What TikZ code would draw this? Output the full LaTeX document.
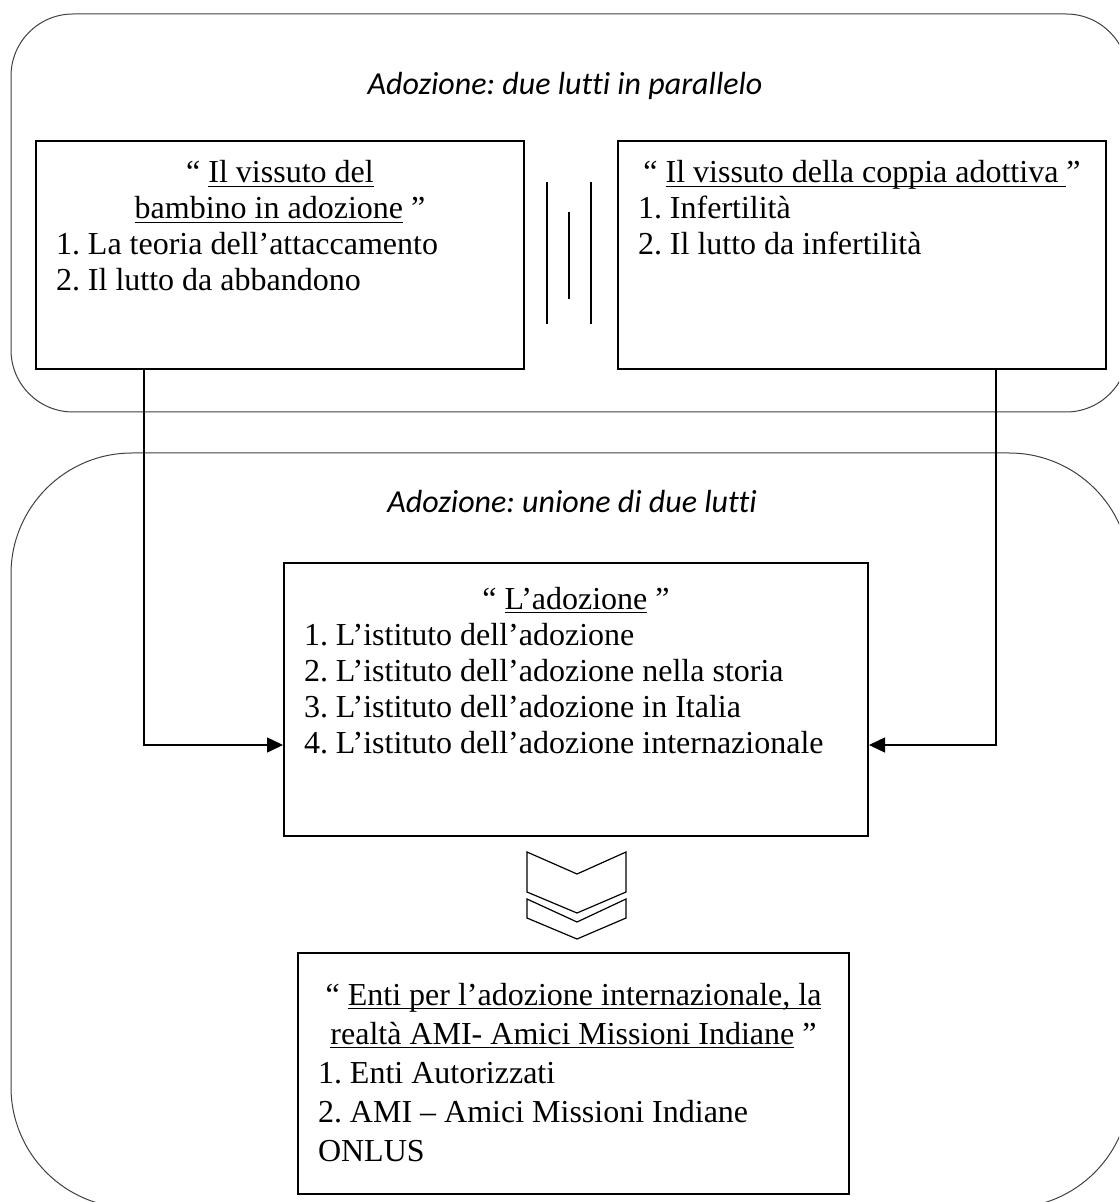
\documentclass[tikz,border=0pt]{standalone}
\usepackage{fontspec}
\setmainfont{Liberation Serif}
\newfontfamily\headfont[Ligatures=NoCommon]{Carlito}
\usetikzlibrary{arrows.meta}
\frenchspacing
\newcommand{\boxfont}{\fontsize{16pt}{18pt}\selectfont}
\newcommand{\undr}[1]{\leavevmode\setbox0\hbox{#1}\rlap{\rule[-2.2pt]{\wd0}{0.6pt}}\box0}

\begin{document}
\begin{tikzpicture}[x=0.5pt, y=-0.5pt,
    frame/.style={draw=black!75, line width=0.5pt},
    textbox/.style={draw, line width=1pt, inner xsep=10pt, inner ysep=0pt, anchor=north west, font=\boxfont},
    title/.style={anchor=base, font=\headfont\itshape\fontsize{16pt}{19pt}\selectfont},
    link/.style={line width=0.75pt, -{Triangle[length=8pt, width=7.5pt]}},
    chevron/.style={draw, line width=0.6pt, line join=miter}]
  \useasboundingbox (0,0) rectangle (1119,1202);
  \clip (0,0) rectangle (1119,1202);

  \draw[frame, rounded corners=31pt] (11,14) rectangle (1128,412);
  \draw[frame, rounded corners=60.5pt] (11,453) rectangle (1130,1208);

  \node[title] (parallelo) at (565,95) {Adozione: due lutti in parallelo};
  \node[title] (unione) at (572,512) {Adozione: unione di due lutti};

  \node[textbox] (bambino) at (35,140) {\parbox[t][114pt][t]{224pt}{\centering\rule{0pt}{21pt}“ \undr{Il vissuto del}\\
    \undr{bambino in adozione}\ ”\par
    \raggedright 1. La teoria dell’attaccamento\\
    2. Il lutto da abbandono}};
  \node[textbox] (coppia) at (617,140) {\parbox[t][114pt][t]{224pt}{\centering\rule{0pt}{21pt}“ \undr{Il vissuto della coppia adottiva\ }”\par
    \raggedright 1. Infertilità\\
    2. Il lutto da infertilità}};
  \node[textbox] (adozione) at (283,562) {\parbox[t][136.5pt][t]{272pt}{\centering\rule{0pt}{23pt}“ \undr{L’adozione}\ ”\par
    \raggedright 1. L’istituto dell’adozione\\
    2. L’istituto dell’adozione nella storia\\
    3. L’istituto dell’adozione in Italia\\
    4. L’istituto dell’adozione internazionale}};
  \node[textbox] (enti) at (297,952) {\parbox[t][120.5pt][t]{255.5pt}{\fontsize{16pt}{19.5pt}\selectfont
    \centering\rule{0pt}{26pt}“ \undr{Enti per l’adozione internazionale, la}\\
    \undr{realtà AMI- Amici Missioni Indiane}\ ”\par
    \raggedright 1. Enti Autorizzati\\
    2. AMI – Amici Missioni Indiane\\
    ONLUS}};

  % parallel bars
  \foreach \xpos/\ytop/\ybot in {547/182/324, 569/212/299, 591/182/324}
    \draw[line width=0.75pt] (\xpos,\ytop) -- (\xpos,\ybot);

  \foreach \source/\xshiftval/\side in {bambino/-68pt/west, coppia/67pt/east}
    \draw[link] ([xshift=\xshiftval]\source.south) |- ([yshift=-22.75pt]adozione.\side);

  % double chevron
  \draw[chevron] (527,852) -- (577,874) -- (626,852) -- (626,892) -- (577,913) -- (527,892) -- cycle;
  \draw[chevron] (527,899) -- (577,922) -- (626,899) -- (626,918) -- (577,939) -- (527,918) -- cycle;
\end{tikzpicture}
\end{document}
